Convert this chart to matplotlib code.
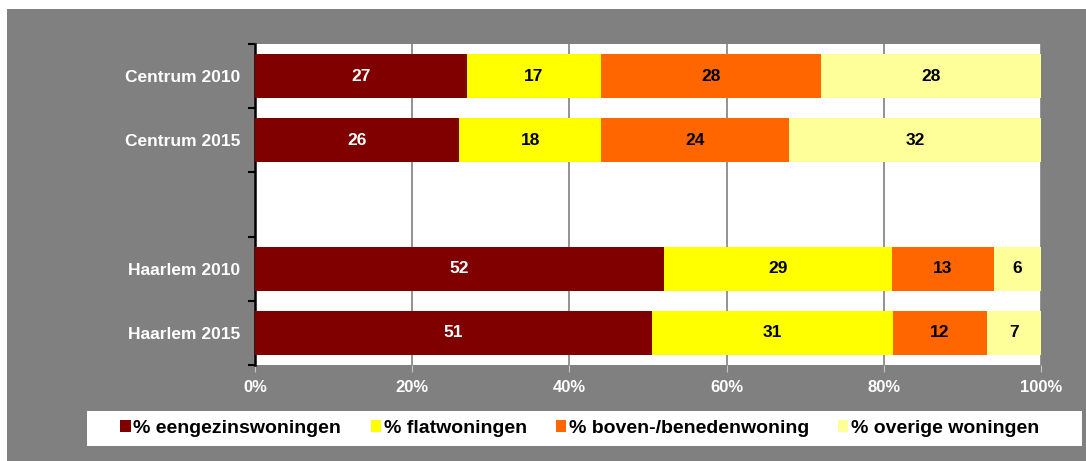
import numpy as np
import matplotlib.pyplot as plt
from matplotlib.patches import Rectangle

plt.rcParams['font.family'] = ['Liberation Sans', 'DejaVu Sans']

labels = ['Centrum 2010', 'Centrum 2015', '', 'Haarlem 2010', 'Haarlem 2015']
eengezins = [27, 26, 0, 52, 51]
flat = [17, 18, 0, 29, 31]
boven = [28, 24, 0, 13, 12]
overige = [28, 32, 0, 6, 7]
series = ['% eengezinswoningen', '% flatwoningen', '% boven-/benedenwoning', '% overige woningen']
colors = ['#800000', '#FFFF00', '#FF6600', '#FFFF99']
text_colors = ['white', 'black', 'black', 'black']

W, H = 1086, 461
fig = plt.figure(figsize=(W / 100, H / 100), dpi=100)
fig.patch.set_facecolor('white')
fig.patches.append(Rectangle((7 / W, 0), 1 - 7 / W, (H - 9) / H, transform=fig.transFigure,
                             facecolor='#808080', edgecolor='none', zorder=-2))
fig.patches.append(Rectangle((87 / W, 1 - 446 / H), (1082 - 87) / W, 35 / H, transform=fig.transFigure,
                             facecolor='white', edgecolor='none', zorder=-1))

ax = fig.add_axes([255 / W, 1 - 365 / H, (1041 - 255) / W, (365 - 44) / H])
ax.set_facecolor('white')
ax.set_zorder(1)

y = np.arange(len(labels))
data = [eengezins, flat, boven, overige]
left = np.zeros(len(labels))
for vals, name, c, tc in zip(data, series, colors, text_colors):
    vals = np.array(vals, dtype=float)
    tot = np.array([sum(d[i] for d in data) for i in range(len(labels))], dtype=float)
    frac = np.divide(vals, tot, out=np.zeros_like(vals), where=tot > 0)
    ax.barh(y, frac, left=left, height=0.68, color=c, label=name, zorder=3)
    for i in range(len(labels)):
        if vals[i] > 0:
            ax.text(left[i] + frac[i] / 2, y[i], f'{int(vals[i])}', ha='center', va='center',
                    color=tc, fontsize=12.5, fontweight='bold', zorder=4)
    left += frac

ax.set_xlim(0, 1)
ax.set_ylim(len(labels) - 0.5, -0.5)
ax.set_xticks(np.linspace(0, 1, 6))
ax.set_xticklabels([f'{int(v)}%' for v in np.linspace(0, 100, 6)], color='white',
                   fontsize=12, fontweight='bold')
ax.xaxis.grid(True, color='#808080', linewidth=1.2, zorder=1)
ax.set_axisbelow(True)
ax.tick_params(axis='x', length=5, color='#c8c8c8', pad=6)

ax.set_yticks(np.arange(len(labels) + 1) - 0.5)
ax.set_yticklabels([])
ax.tick_params(axis='y', which='major', length=5, width=1.5, color='black')
ax.set_yticks(y, minor=True)
ax.set_yticklabels(labels, minor=True, color='white', fontsize=12.5, fontweight='bold')
ax.tick_params(axis='y', which='minor', length=0, pad=10.5)

for s in ['top', 'right', 'bottom']:
    ax.spines[s].set_visible(False)
ax.spines['left'].set_linewidth(1.8)
ax.spines['left'].set_color('black')

h, l = ax.get_legend_handles_labels()
leg = fig.legend(h, l, loc='center', bbox_to_anchor=((120 + 1040) / 2 / W, 1 - 428.5 / H), ncol=4,
                 frameon=False, handlelength=0.52, handleheight=0.52, handletextpad=0.15,
                 columnspacing=1.5, borderpad=0, prop={'weight': 'bold', 'size': 14})

fig.savefig('out.png', dpi=100)
